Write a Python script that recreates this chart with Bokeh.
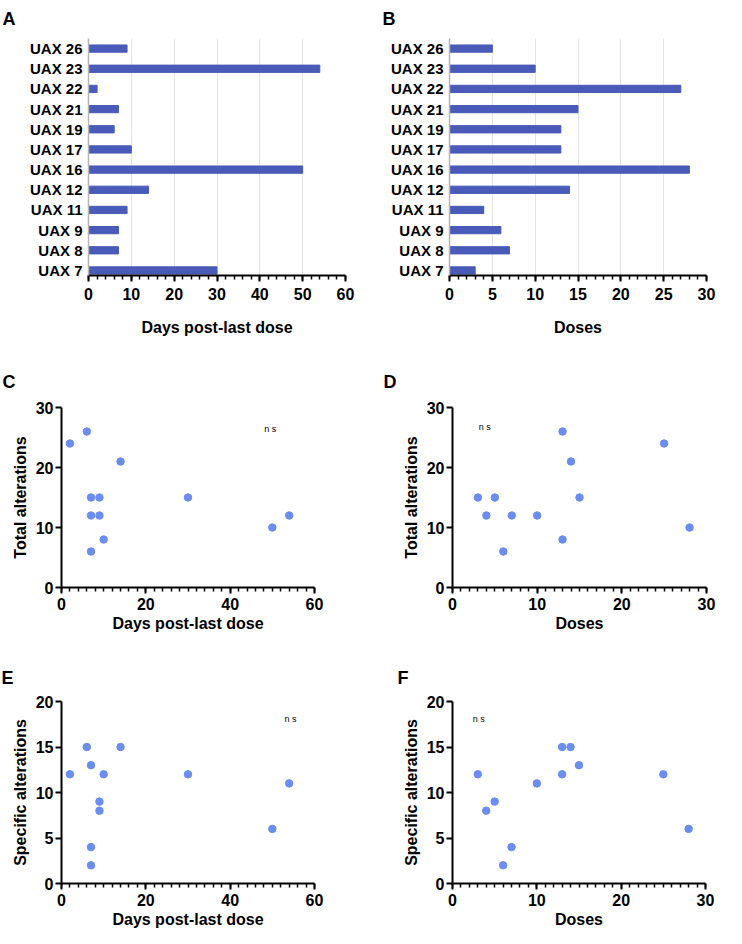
from bokeh.plotting import figure
from bokeh.layouts import row, column
from bokeh.models import Range1d, SingleIntervalTicker, FixedTicker, Label
from bokeh.embed import file_html
from bokeh.resources import INLINE

# ---------------- data ----------------
patients = ["UAX 7", "UAX 8", "UAX 9", "UAX 11", "UAX 12", "UAX 16",
            "UAX 17", "UAX 19", "UAX 21", "UAX 22", "UAX 23", "UAX 26"]
days_post_last_dose = [30, 7, 7, 9, 14, 50, 10, 6, 7, 2, 54, 9]
doses = [3, 7, 6, 4, 14, 28, 13, 13, 15, 27, 10, 5]
doses_scatter = [3, 7, 6, 4, 14, 28, 13, 13, 15, 25, 10, 5]
total_alterations = [15, 12, 6, 12, 21, 10, 8, 26, 15, 24, 12, 15]
specific_alterations = [12, 4, 2, 8, 15, 6, 12, 15, 13, 12, 11, 9]

FONT = "Liberation Sans"
BAR = "#4A5AB8"
DOT = "#6B8DF0"


def base_axis(ax, label_size="16px"):
    ax.axis_line_color = "black"
    ax.axis_line_width = 2
    ax.major_tick_line_color = "black"
    ax.major_tick_line_width = 2
    ax.major_tick_in = 0
    ax.major_tick_out = 6
    ax.minor_tick_line_color = "black"
    ax.minor_tick_line_width = 1.5
    ax.minor_tick_in = 0
    ax.minor_tick_out = 4
    ax.major_label_text_font = FONT
    ax.major_label_text_font_style = "bold"
    ax.major_label_text_font_size = label_size
    ax.major_label_text_color = "black"
    ax.axis_label_text_font = FONT
    ax.axis_label_text_font_style = "bold"
    ax.axis_label_text_font_size = "16px"
    ax.axis_label_text_color = "black"


def letter(p, text, dx, standoff, valign="bottom"):
    t = p.title
    t.text = text
    t.align = "left"
    t.vertical_align = valign
    t.offset = dx
    t.standoff = standoff
    t.text_font = FONT
    t.text_font_style = "bold"
    t.text_font_size = "18px"
    t.text_color = "black"


def ns(p, x, y):
    p.add_layout(Label(x=x, y=y, text="n s", text_font=FONT,
                       text_font_size="9px", text_align="center",
                       text_baseline="middle", text_color="black"))


def bar_fig(values, xmax, interval, xlabel, w, left, right, txt, dx):
    p = figure(width=w, height=345, x_range=Range1d(0, xmax),
               y_range=Range1d(-0.25, 11.5), output_backend="svg",
               toolbar_location=None, min_border_left=left,
               min_border_right=right, min_border_top=38,
               min_border_bottom=70, title=txt)
    p.outline_line_color = None
    p.hbar(y=list(range(len(patients))), left=0, right=values,
           height=0.36, color=BAR)
    t = SingleIntervalTicker(interval=interval, num_minor_ticks=5)
    p.xaxis.ticker = t
    p.xgrid.ticker = t
    p.xgrid.grid_line_color = "#e4e4e4"
    p.ygrid.visible = False
    base_axis(p.xaxis[0], "16px")
    p.xaxis.major_label_standoff = 6
    p.xaxis.axis_label = xlabel
    p.xaxis.axis_label_standoff = 16
    ya = p.yaxis[0]
    base_axis(ya, "15px")
    ya.ticker = FixedTicker(ticks=list(range(len(patients))))
    ya.major_label_overrides = {i: n for i, n in enumerate(patients)}
    ya.axis_line_color = "#b5b5b5"
    ya.axis_line_width = 1.5
    ya.major_tick_out = 0
    ya.minor_tick_out = 0
    ya.major_label_standoff = 6
    letter(p, txt, dx, 15, "top")
    return p


def scatter_fig(x, y, xmax, xint, ymax, yint, xlabel, ylabel, w, h,
                left, right, top, bottom, txt, dx, so, nsx, nsy):
    p = figure(width=w, height=h, x_range=Range1d(0, xmax),
               y_range=Range1d(0, ymax), output_backend="svg",
               toolbar_location=None, min_border_left=left,
               min_border_right=right, min_border_top=top,
               min_border_bottom=bottom, title=txt)
    p.outline_line_color = None
    p.grid.visible = False
    p.scatter(x, y, size=7.5, color=DOT)
    xa = p.xaxis[0]
    base_axis(xa, "16px")
    xa.ticker = SingleIntervalTicker(interval=xint, num_minor_ticks=10)
    xa.major_label_standoff = 4
    xa.axis_label = xlabel
    xa.axis_label_standoff = 2
    ya = p.yaxis[0]
    base_axis(ya, "16px")
    ya.ticker = SingleIntervalTicker(interval=yint, num_minor_ticks=0)
    ya.minor_tick_out = 0
    ya.major_label_standoff = 2
    ya.axis_label = ylabel
    ya.axis_label_standoff = 4
    letter(p, txt, dx, so)
    ns(p, nsx, nsy)
    return p


pA = bar_fig(days_post_last_dose, 60, 10, "Days post-last dose", 370, 88, 25, "A", -86)
pB = bar_fig(doses, 30, 5, "Doses", 372, 79, 36, "B", -67)

pC = scatter_fig(days_post_last_dose, total_alterations, 60, 20, 30, 10,
                 "Days post-last dose", "Total alterations", 370, 305,
                 61, 56, 62, 63, "C", -59, 32, 49.5, 26.5)
pD = scatter_fig(doses_scatter, total_alterations, 30, 10, 30, 10,
                 "Doses", "Total alterations", 372, 305,
                 82, 36, 62, 63, "D", -69, 32, 3.8, 26.8)
pE = scatter_fig(days_post_last_dose, specific_alterations, 60, 20, 20, 5,
                 "Days post-last dose", "Specific alterations", 370, 294,
                 61, 56, 51, 61, "E", -60, 28, 54.3, 18.1)
pF = scatter_fig(doses_scatter, specific_alterations, 30, 10, 20, 5,
                 "Doses", "Specific alterations", 372, 294,
                 82, 37, 51, 61, "F", -55, 28, 3.1, 18.1)

layout = column(row(pA, pB), row(pC, pD), row(pE, pF))
open("out.html", "w").write(file_html(layout, INLINE))
